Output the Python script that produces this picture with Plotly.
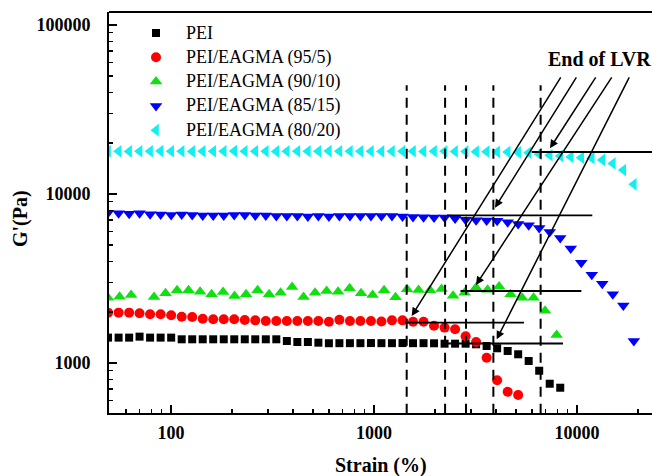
import numpy as np
import plotly.graph_objects as go

# ---------------- data ----------------
strain = [48.98, 55.2, 62.2, 70.0, 78.9, 88.9, 100.2, 112.9, 127.2, 143.3,
          161.4, 181.9, 204.9, 230.9, 260.1, 293.1, 330.2, 372.1, 419.2, 472.3,
          532.1, 599.5, 675.4, 761.0, 857.4, 966.1, 1088, 1226, 1382, 1557,
          1754, 1976, 2227, 2509, 2827, 3184, 3588, 4042, 4555, 5131,
          5781, 6514, 7339, 8269, 9316, 10496, 11826, 13323, 15011, 16913, 19055]

strain_90 = [48.98, 55.8, 63.6, 82.5, 94.0, 107.1, 122.0, 139.1, 158.5, 180.5,
             205.7, 234.3, 267.0, 304.2, 346.6, 394.9, 449.9, 512.6, 584.0, 665.3,
             758.0, 863.6, 984.0, 1121, 1277, 1455, 1658, 1889, 2152, 2452,
             2794, 3183, 3627, 4132, 4708, 5364, 6111, 6962, 7932]

pei = [1413, 1413, 1413, 1432, 1413, 1413, 1413, 1381, 1381, 1381,
       1381, 1381, 1381, 1381, 1381, 1381, 1381, 1350, 1331, 1331,
       1319, 1309, 1310, 1310, 1310, 1312, 1310, 1310, 1312, 1310,
       1310, 1308, 1301, 1301, 1301, 1290, 1261, 1222, 1178, 1126,
       1028, 900, 754, 714]

ea95 = [1986, 1986, 1986, 1968, 1941, 1941, 1915, 1879, 1871, 1828,
        1813, 1813, 1813, 1795, 1788, 1773, 1773, 1773, 1773, 1773,
        1773, 1756, 1800, 1773, 1773, 1773, 1760, 1788, 1788, 1756,
        1756, 1660, 1620, 1582, 1440, 1330, 1075, 790, 676, 647]

ea90 = [2432, 2466, 2524, 2458, 2585, 2692, 2692, 2641, 2550, 2630,
        2489, 2550, 2692, 2550, 2606, 2818, 2458, 2606, 2667, 2641,
        2765, 2585, 2524, 2692, 2450, 2729, 2700, 2692, 2740, 2500,
        2606, 2800, 2710, 2840, 2550, 2432, 2432, 2040, 1466]

ea85 = [7750, 7700, 7650, 7700, 7600, 7550, 7500, 7550, 7500, 7450,
        7450, 7450, 7500, 7500, 7450, 7450, 7400, 7400, 7400, 7350,
        7400, 7350, 7400, 7400, 7400, 7400, 7400, 7400, 7350, 7300,
        7280, 7250, 7250, 7150, 7050, 7000, 6980, 6950, 6800, 6650,
        6540, 6300, 5950, 5490, 4760, 3920, 3330, 2945, 2550, 2190, 1350]

ea80 = [17900, 17900, 17850, 17900, 17900, 17950, 17900, 17900, 17850, 17900,
        17900, 17900, 17950, 17900, 17900, 17900, 17850, 17900, 17900, 17900,
        17900, 17950, 17900, 17900, 17900, 17900, 17850, 17900, 17900, 17900,
        17850, 17900, 17900, 17850, 17850, 17800, 17800, 17750, 17700, 17650,
        17550, 17200, 16950, 16800, 16560, 16400, 16300, 15900, 15150, 13850, 11410]

series_names = ["PEI", "PEI/EAGMA (95/5)", "PEI/EAGMA (90/10)",
                "PEI/EAGMA (85/15)", "PEI/EAGMA (80/20)"]

# end-of-LVR annotation data (strain %, G' Pa)
lvr_strain = [1449, 2240, 2839, 3873, 6620]
lvr_gmin, lvr_gmax = 500, 44000
hline_g = [1304, 1732, 2667, 7480, 17720]
hline_x0 = [2188, 1421, 2667, 2288, 5984]
hline_x1 = [8531, 5483, 10510, 11897, 30000]
arrow_head_x = [1534, 3945, 7362, 3181, 4022]
arrow_head_g = [1897, 8300, 18640, 2894, 1380]
arrow_tail_x = [8405, 10035, 12500, 14990, 18240]
arrow_tail_g = [50000, 50000, 50000, 50000, 50000]

x_ticks = [100, 1000, 10000]
y_ticks = [1000, 10000, 100000]
x_minor = [50, 60, 70, 80, 90, 200, 300, 400, 500, 600, 700, 800, 900,
           2000, 3000, 4000, 5000, 6000, 7000, 8000, 9000, 20000]
y_minor = [600, 700, 800, 900, 2000, 3000, 4000, 5000, 6000, 7000, 8000, 9000,
           20000, 30000, 40000, 50000, 60000, 70000, 80000, 90000]

# legend layout (fractions of the plot area)
legend_key_x = 0.0866
legend_text_x = 0.1381
legend_top_y = 0.9476
legend_step_y = 0.0606

# ---------------- figure ----------------
FONT = "Liberation Serif"
fig = go.Figure()

styles = [
    dict(symbol="square", color="#000000", size=8),
    dict(symbol="circle", color="#ff0000", size=10),
    dict(symbol="triangle-up", color="#10e010", size=11),
    dict(symbol="triangle-down", color="#0000ff", size=11),
    dict(symbol="triangle-left", color="#10f0f0", size=11),
]
xs = [strain[:len(pei)], strain[:len(ea95)], strain_90, strain, strain]
ys = [pei, ea95, ea90, ea85, ea80]

for name, x, y, st in zip(series_names, xs, ys, styles):
    fig.add_trace(go.Scatter(
        x=x, y=y, mode="markers", name=name, showlegend=False,
        marker=dict(symbol=st["symbol"], color=st["color"], size=st["size"],
                    line=dict(width=0)),
    ))

# dashed vertical lines
vx, vy = [], []
for s in lvr_strain:
    vx += [s, s, None]
    vy += [lvr_gmin, lvr_gmax, None]
fig.add_trace(go.Scatter(x=vx, y=vy, mode="lines", showlegend=False,
                         line=dict(color="black", width=2, dash="10px,7px"),
                         hoverinfo="skip"))

# horizontal solid lines
hx, hy = [], []
for g, a, b in zip(hline_g, hline_x0, hline_x1):
    hx += [a, b, None]
    hy += [g, g, None]
fig.add_trace(go.Scatter(x=hx, y=hy, mode="lines", showlegend=False,
                         line=dict(color="black", width=1.8),
                         hoverinfo="skip"))

annotations = []
for hx_, hg, tx, tg in zip(arrow_head_x, arrow_head_g, arrow_tail_x, arrow_tail_g):
    annotations.append(dict(
        x=np.log10(hx_), y=np.log10(hg), ax=np.log10(tx), ay=np.log10(tg),
        xref="x", yref="y", axref="x", ayref="y", text="",
        showarrow=True, arrowhead=2, arrowsize=1.1, arrowwidth=1.5,
        arrowcolor="black", standoff=0, startstandoff=0))

# hand-placed legend (keys on an overlay unit axis, labels as annotations)
for k, (name, st) in enumerate(zip(series_names, styles)):
    ly = legend_top_y - k * legend_step_y
    fig.add_trace(go.Scatter(
        x=[legend_key_x], y=[ly], xaxis="x2", yaxis="y2", mode="markers",
        showlegend=False, hoverinfo="skip",
        marker=dict(symbol=st["symbol"], color=st["color"], size=st["size"],
                    line=dict(width=0))))
    annotations.append(dict(text=name, x=legend_text_x, y=ly, xref="paper",
                            yref="paper", showarrow=False, xanchor="left",
                            yanchor="middle",
                            font=dict(family=FONT, size=18, color="black")))

annotations.append(dict(text="End of LVR", x=0.9024, y=0.8828, xref="paper",
                        yref="paper", showarrow=False, xanchor="center",
                        yanchor="middle",
                        font=dict(family=FONT, size=20, color="black", weight="bold")))
annotations.append(dict(text="Strain (%)", x=0.5, y=-0.132, xref="paper",
                        yref="paper", showarrow=False, xanchor="center",
                        yanchor="middle",
                        font=dict(family=FONT, size=20, color="black", weight="bold")))
annotations.append(dict(text="G'(Pa)", x=-0.164, y=0.486, xref="paper",
                        yref="paper", showarrow=False, xanchor="center",
                        yanchor="middle", textangle=-90,
                        font=dict(family=FONT, size=20, color="black", weight="bold")))

fig.update_layout(
    width=652, height=476,
    margin=dict(l=109, r=0, t=12, b=63),
    paper_bgcolor="white", plot_bgcolor="white",
    font=dict(family=FONT, color="black"),
    annotations=annotations,
    shapes=[dict(type="line", xref="paper", yref="paper", x0=0, x1=1, y0=1, y1=1,
                 line=dict(color="black", width=2))],
    showlegend=False,
    xaxis2=dict(overlaying="x", range=[0, 1], visible=False),
    yaxis2=dict(overlaying="y", range=[0, 1], visible=False),
)

fig.layout.xaxis.update(
    type="log", range=[1.6946, 4.3695],
    showline=True, linecolor="black", linewidth=2, mirror=False,
    ticks="inside", ticklen=8, tickwidth=1.5, tickcolor="black",
    tickvals=x_ticks, ticktext=[str(v) for v in x_ticks],
    tickfont=dict(family=FONT, size=18, color="black", weight="bold"),
    ticklabelstandoff=2,
    minor=dict(tickvals=x_minor, ticks="inside", ticklen=4, tickwidth=1.5,
               tickcolor="black", showgrid=False),
    showgrid=False, zeroline=False,
)
fig.layout.yaxis.update(
    type="log", range=[2.7041, 5.0769],
    showline=True, linecolor="black", linewidth=2, mirror=False,
    ticks="inside", ticklen=8, tickwidth=1.5, tickcolor="black",
    tickvals=y_ticks, ticktext=[str(v) for v in y_ticks],
    tickfont=dict(family=FONT, size=18, color="black", weight="bold"),
    ticklabelstandoff=13,
    minor=dict(tickvals=y_minor, ticks="inside", ticklen=4, tickwidth=1.5,
               tickcolor="black", showgrid=False),
    showgrid=False, zeroline=False,
)

# remove the browser's default 8px body margin and scrollbars
fig.write_html(
    "out.html",
    config={"displayModeBar": False, "staticPlot": True},
    post_script="document.body.style.margin='0';"
                "document.body.style.overflow='hidden';"
                "document.documentElement.style.overflow='hidden';",
)
